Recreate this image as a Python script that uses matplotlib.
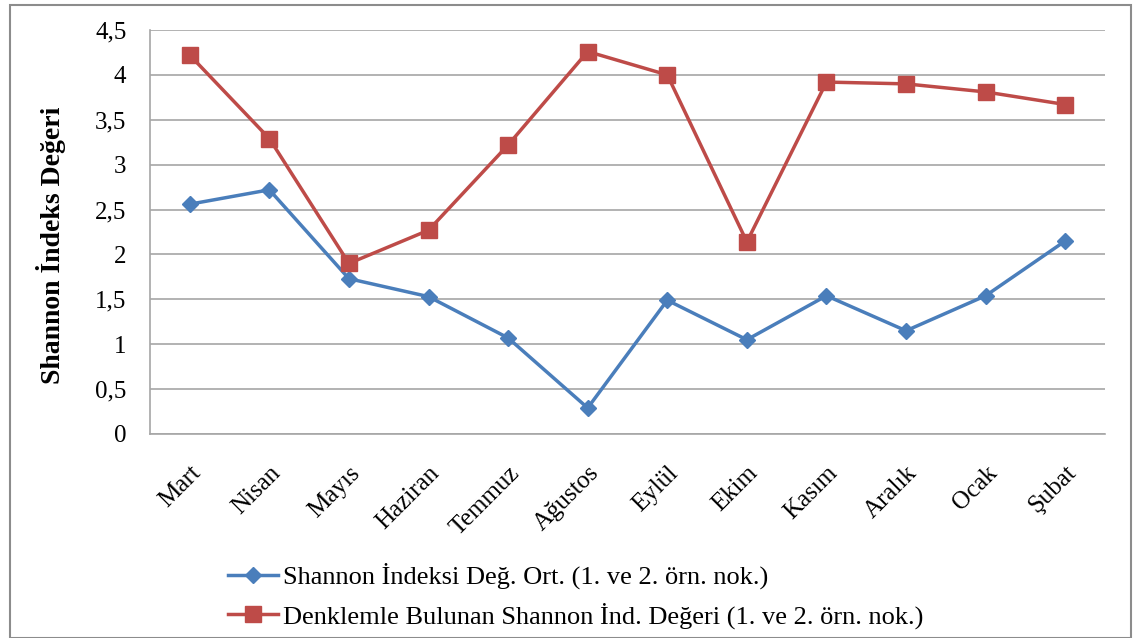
import matplotlib.pyplot as plt
from matplotlib.patches import Rectangle

plt.rcParams['font.family'] = ['Liberation Serif', 'DejaVu Serif']

aylar = ['Mart', 'Nisan', 'Mayıs', 'Haziran', 'Temmuz', 'Ağustos',
         'Eylül', 'Ekim', 'Kasım', 'Aralık', 'Ocak', 'Şubat']
shannon_ort = [2.56, 2.72, 1.73, 1.53, 1.07, 0.29, 1.49, 1.05, 1.54, 1.15, 1.54, 2.15]
shannon_denklem = [4.22, 3.29, 1.90, 2.27, 3.22, 4.26, 4.00, 2.14, 3.92, 3.90, 3.81, 3.67]
y_ticks = [0, 0.5, 1, 1.5, 2, 2.5, 3, 3.5, 4, 4.5]

fig = plt.figure(figsize=(11.38, 6.38), dpi=100)
ax = fig.add_axes([150/1138, 1 - 434/638, 955/1138, 404/638])

x = range(len(aylar))
ax.plot(x, shannon_ort, color='#4A7EBB', lw=2.5, marker='D', ms=8,
        label='Shannon İndeksi Değ. Ort. (1. ve 2. örn. nok.)')
ax.plot(x, shannon_denklem, color='#BE4B48', lw=2.5, marker='s', ms=11,
        label='Denklemle Bulunan Shannon İnd. Değeri (1. ve 2. örn. nok.)')

ax.set_xlim(-0.5, len(aylar) - 0.5)
ax.set_ylim(0, 4.5)
ax.set_yticks(y_ticks)
ax.set_yticklabels([str(v).replace('.', ',') if v % 1 else str(int(v)) for v in y_ticks])
ax.set_xticks(list(x))
ax.set_xticklabels(aylar, rotation=45, ha='right', rotation_mode='anchor')
ax.tick_params(axis='both', length=0, labelsize=18)
ax.tick_params(axis='y', pad=17)
ax.tick_params(axis='x', pad=20)
ax.grid(axis='y', color='#a6a6a6', lw=1.2)
ax.set_axisbelow(True)
for s in ['top', 'right']:
    ax.spines[s].set_visible(False)
for s in ['left', 'bottom']:
    ax.spines[s].set_color('#a6a6a6')
    ax.spines[s].set_linewidth(1.2)
ax.set_ylabel('Shannon İndeks Değeri', fontsize=20, fontweight='bold')
ax.yaxis.set_label_coords(-84/955, 0.468)

fig.legend(loc='upper left', bbox_to_anchor=(228/1138, 1 - 563/638), frameon=False,
           fontsize=19, handlelength=1.9, handletextpad=0.2, labelspacing=0.5,
           borderaxespad=0, borderpad=0)

# dış çerçeve
fig.add_artist(Rectangle((10/1138, 0), 1121/1138, 633/638, transform=fig.transFigure,
                         fill=False, edgecolor='#8c8c8c', lw=1.5))

fig.savefig('out.png', dpi=100)
